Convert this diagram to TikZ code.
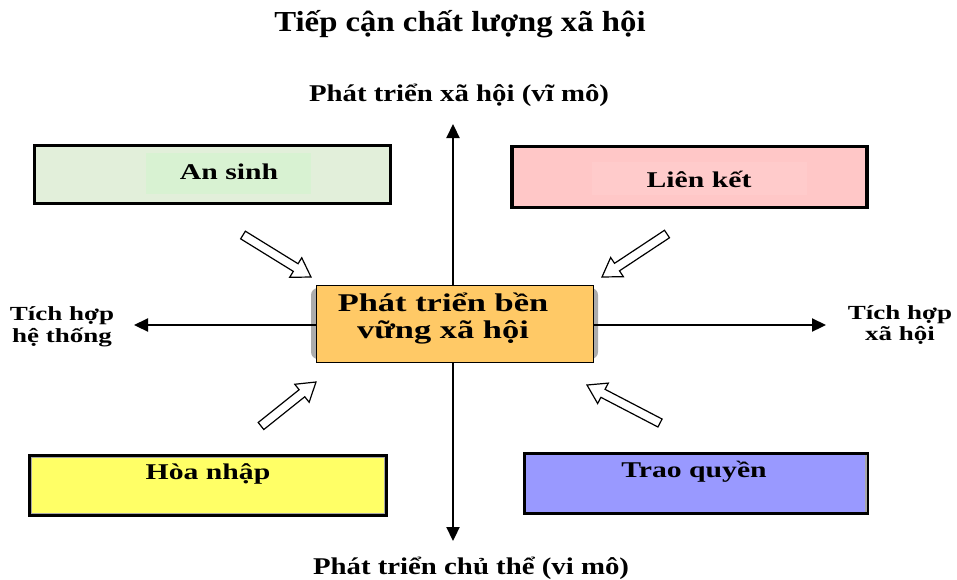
\documentclass[tikz,border=0pt]{standalone}
\usepackage{fontspec}
\setmainfont{Liberation Serif}
\usetikzlibrary{calc,arrows.meta}
\pgfdeclarelayer{bg}
\pgfsetlayers{bg,main}

\definecolor{ansinhbg}{HTML}{E2EFDA}
\definecolor{ansinhin}{HTML}{D8F2D2}
\definecolor{lienketbg}{HTML}{FFC7C7}
\definecolor{lienketin}{HTML}{FFCBCB}
\definecolor{hoanhapbg}{HTML}{FFFF66}
\definecolor{traoquyenbg}{HTML}{9999FF}
\definecolor{corebg}{HTML}{FFC966}

% bold text, stretched horizontally: {xscale}{size}{text}
\newcommand{\wtext}[3]{\scalebox{#1}[1]{\fontsize{#2}{#2}\selectfont\bfseries #3}}
% two centred lines: {xscale}{size}{line skip}{lines}
\newcommand{\wlines}[4]{\scalebox{#1}[1]{\fontsize{#2}{#3}\selectfont\bfseries
  \begin{tabular}[t]{@{}c@{}}#4\end{tabular}}}

% open block arrow from tail #1 to tip #2
\newcommand{\hollowarrow}[2]{%
  \coordinate (hb) at ($(#2)!18pt!(#1)$);
  \draw[line width=1.2pt, fill=white, line join=miter]
    ($(#1)!4.5pt!90:(#2)$) -- ($(hb)!4.5pt!-90:(#1)$) -- ($(hb)!11.5pt!-90:(#1)$)
    -- (#2) -- ($(hb)!11.5pt!90:(#1)$) -- ($(hb)!4.5pt!90:(#1)$)
    -- ($(#1)!4.5pt!-90:(#2)$) -- cycle;}

\tikzset{
  txt/.style={inner sep=0pt, anchor=base},
  panel/.style={draw=black, line width=3.2pt},
  axis/.style={line width=2.2pt, -{Triangle[width=13pt,length=14pt]}},
}

\begin{document}
\begin{tikzpicture}[x=1pt, y=-1pt]
\useasboundingbox (0,0) rectangle (957,579);

% title and axis labels
\node[txt] (title) at (460,31) {\wtext{1.13}{29}{Tiếp cận chất lượng xã hội}};
\node[txt] (macro) at (459,101) {\wtext{1.2}{24}{Phát triển xã hội (vĩ mô)}};
\node[txt] (micro) at (471,574) {\wtext{1.2}{24}{Phát triển chủ thể (vi mô)}};
\node[txt] (sys) at (62,320) {\wlines{1.35}{20}{22}{Tích hợp\\hệ thống}};
\node[txt] (soc) at (900,319) {\wlines{1.35}{20}{21}{Tích hợp\\xã hội}};

% central box
\node[draw=black, line width=0.8pt, fill=corebg, minimum width=277, minimum height=77]
  (core) at (454.5,323.5) {};
\node[txt] (coretext) at (443,311) {\wlines{1.35}{25.5}{27}{Phát triển bền\\vững xã hội}};

\begin{pgfonlayer}{bg}
  \fill[gray!65, rounded corners=7pt] (311,288) rectangle (598,359);
\end{pgfonlayer}

% axes
\coordinate (ntip) at (453,124);
\coordinate (stip) at (453,541);
\coordinate (wtip) at (134,325);
\coordinate (etip) at (826,325);
\draw[axis] (core.north -| ntip) -- (ntip);
\draw[axis] (core.south -| stip) -- (stip);
\draw[axis] (core.west |- wtip) -- (wtip);
\draw[axis] (core.east |- etip) -- (etip);

% four dimension boxes
\node[panel, fill=ansinhbg, minimum width=356, minimum height=58] (ansinh) at (212.5,174.5) {};
\fill[ansinhin] (146,153) rectangle (311,194);
\node[txt] (ansinhtext) at (229,179) {\wtext{1.32}{22.5}{An sinh}};

\node[panel, fill=lienketbg, minimum width=355, minimum height=61] (lienket) at (689.5,177) {};
\fill[lienketin] (592,162) rectangle (807,195);
\node[txt] (lienkettext) at (699,187) {\wtext{1.32}{22.5}{Liên kết}};

\node[panel, fill=hoanhapbg, minimum width=356, minimum height=59] (hoanhap) at (208,485.5) {};
\draw[gray!70, line width=1pt] ($(hoanhap.north west)+(3.5,3.5)$) rectangle ($(hoanhap.south east)+(-3.5,-3.5)$);
\node[txt] (hoanhaptext) at (208,479) {\wtext{1.32}{22.5}{Hòa nhập}};

\node[panel, fill=traoquyenbg, minimum width=343, minimum height=60] (traoquyen) at (696,483.5) {};
\draw[gray!70, line width=2pt] ($(traoquyen.north east)+(-3.5,3)$) -- ($(traoquyen.south east)+(-3.5,-3)$);
\node[txt] (traoquyentext) at (694,477) {\wtext{1.32}{22.5}{Trao quyền}};

% open arrows pointing into the centre
\coordinate (a1t) at (243,235); \coordinate (a1h) at (311,277);
\coordinate (a2t) at (667,234); \coordinate (a2h) at (602,277);
\coordinate (a3t) at (261,426); \coordinate (a3h) at (316,382);
\coordinate (a4t) at (660,423); \coordinate (a4h) at (587,385);
\hollowarrow{a1t}{a1h}
\hollowarrow{a2t}{a2h}
\hollowarrow{a3t}{a3h}
\hollowarrow{a4t}{a4h}
\end{tikzpicture}
\end{document}
